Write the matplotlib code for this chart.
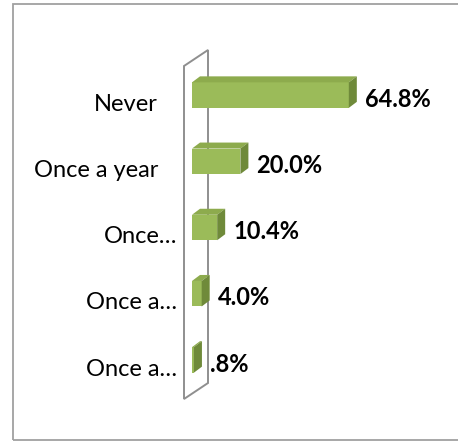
import matplotlib
matplotlib.use('Agg')
import matplotlib.pyplot as plt
from matplotlib.patches import Polygon, Rectangle
from matplotlib.transforms import offset_copy, IdentityTransform
import numpy as np

categories = ["Never", "Once a year", "Once…", "Once a…", "Once a…"]
values = [64.8, 20.0, 10.4, 4.0, 0.8]
value_labels = ["64.8%", "20.0%", "10.4%", "4.0%", ".8%"]
truncated = [False, False, True, True, True]

plt.rcParams['font.family'] = ['Lato', 'DejaVu Sans']

W, H = 458, 442
fig = plt.figure(figsize=(W / 100, H / 100), dpi=100)
ax = fig.add_axes([192 / W, (H - 393) / H, 242 / W, 331 / H])
ax.set_xlim(0, 100)
ax.set_ylim(len(values) - 0.5, -0.5)
ax.axis('off')

front_c = '#9bbb59'
top_c = '#8dab4d'
side_c = '#6f8a3a'
wall_c = '#8f8f8f'

bar_h = 0.385
ypos = np.arange(len(values))
ax.barh(ypos, values, height=bar_h, color=front_c, zorder=3, linewidth=0)

# 3D faces (depth offset in pixels)
DX, DY = 8, 6
tr = ax.transData
for y, v in zip(ypos, values):
    (x0, yb), = tr.transform([(0, y + bar_h / 2)])
    (x1, yt), = tr.transform([(v, y - bar_h / 2)])
    top = Polygon([(x0, yt), (x1, yt), (x1 + DX, yt + DY), (x0 + DX, yt + DY)],
                  closed=True, facecolor=top_c, edgecolor='none',
                  transform=IdentityTransform(), zorder=3, clip_on=False)
    side = Polygon([(x1, yb), (x1, yt), (x1 + DX, yt + DY), (x1 + DX, yb + DY)],
                   closed=True, facecolor=side_c, edgecolor='none',
                   transform=IdentityTransform(), zorder=3, clip_on=False)
    ax.add_patch(top)
    ax.add_patch(side)

# 3D wall outline around the category axis
bb = ax.get_window_extent()
(zx, _), = tr.transform([(0, 0)])
fx, bx = zx - 8, zx + 16
wall = Polygon([(fx, bb.y1 - 4), (bx, bb.y1 + 12), (bx, bb.y0 + 10), (fx, bb.y0 - 6)],
               closed=True, facecolor='none', edgecolor=wall_c, linewidth=1.4,
               transform=IdentityTransform(), zorder=1, clip_on=False)
ax.add_patch(wall)

# category labels
for y, lab, tr_flag in zip(ypos, categories, truncated):
    off = -15 if tr_flag else -34
    t = offset_copy(ax.transData, fig=fig, x=off, y=-3, units='dots')
    ax.text(0, y + bar_h / 2, lab, transform=t, ha='right', va='baseline',
            fontsize=17, color='black')

# value labels
for y, v, lab in zip(ypos, values, value_labels):
    t = offset_copy(ax.transData, fig=fig, x=16, y=1, units='dots')
    ax.text(v, y + bar_h / 2, lab, transform=t, ha='left', va='baseline',
            fontsize=17, fontweight='bold', color='black')

# outer chart border (right edge beyond the image)
fig.patches.append(Rectangle((13 / W, (H - 440) / H), 1.0, (440 - 4) / H,
                             transform=fig.transFigure, facecolor='none',
                             edgecolor='#a0a0a0', linewidth=1.3))

fig.savefig('out.png', dpi=100)
